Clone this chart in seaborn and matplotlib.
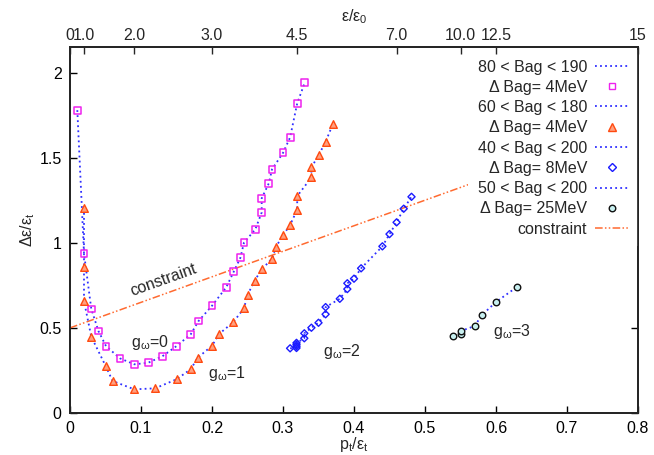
import numpy as np
import pandas as pd
import seaborn as sns
import matplotlib
matplotlib.use("Agg")
import matplotlib.pyplot as plt
from matplotlib.lines import Line2D

# ---------------- data ----------------
g0_x = [0.0103, 0.0197, 0.030, 0.040, 0.0507, 0.0704, 0.0906, 0.110, 0.130, 0.150, 0.170,
        0.181, 0.200, 0.220, 0.2306, 0.240, 0.245, 0.261, 0.270, 0.270, 0.280, 0.2845,
        0.300, 0.310, 0.320, 0.3306]
g0_y = [1.779, 0.938, 0.611, 0.482, 0.393, 0.321, 0.286, 0.295, 0.333, 0.393, 0.462,
        0.540, 0.630, 0.738, 0.830, 0.912, 1.000, 1.079, 1.178, 1.261, 1.349, 1.431,
        1.528, 1.619, 1.819, 1.940]

g1_x = [0.0197, 0.0197, 0.0197, 0.030, 0.050, 0.060, 0.0906, 0.120, 0.150, 0.170, 0.180,
        0.200, 0.210, 0.230, 0.245, 0.250, 0.260, 0.270, 0.2845, 0.290, 0.300, 0.310,
        0.320, 0.320, 0.340, 0.340, 0.350, 0.360, 0.370]
g1_y = [1.205, 0.859, 0.658, 0.448, 0.278, 0.188, 0.139, 0.145, 0.198, 0.257, 0.325,
        0.395, 0.464, 0.534, 0.615, 0.693, 0.777, 0.844, 0.906, 0.975, 1.045, 1.104,
        1.195, 1.274, 1.384, 1.443, 1.513, 1.593, 1.695]

g2_x = [0.310, 0.319, 0.319, 0.319, 0.319, 0.330, 0.330, 0.340, 0.350, 0.360, 0.360,
        0.380, 0.3906, 0.3906, 0.400, 0.410, 0.440, 0.450, 0.460, 0.470, 0.481]
g2_y = [0.380, 0.382, 0.392, 0.402, 0.412, 0.439, 0.468, 0.501, 0.530, 0.580, 0.622,
        0.671, 0.728, 0.762, 0.789, 0.850, 0.979, 1.051, 1.120, 1.200, 1.270]

g3_x = [0.540, 0.550, 0.550, 0.570, 0.580, 0.600, 0.630]
g3_y = [0.450, 0.464, 0.481, 0.511, 0.575, 0.652, 0.742]

constraint_x = [0.0, 0.8]
constraint_y = [0.5, 1.7]

top_tick_pos = [0.0, 0.02, 0.09, 0.20, 0.32, 0.46, 0.55, 0.60, 0.80]
top_tick_labels = ["0", "1.0", "2.0", "3.0", "4.5", "7.0", "10.0", "12.5", "15"]

range_labels = ["80 < Bag < 190", "60 < Bag < 180", "40 < Bag < 200", "50 < Bag < 200"]
step_labels = ["Δ Bag= 4MeV", "Δ Bag= 4MeV", "Δ Bag= 8MeV", "Δ Bag= 25MeV"]
g_labels = ["g$_\\mathrm{ω}$=0", "g$_\\mathrm{ω}$=1", "g$_\\mathrm{ω}$=2", "g$_\\mathrm{ω}$=3"]

# ---------------- style ----------------
sns.set_theme(style="ticks")
plt.rcParams["font.family"] = ["Liberation Sans", "DejaVu Sans"]
plt.rcParams["mathtext.fontset"] = "custom"
plt.rcParams["mathtext.rm"] = "Liberation Sans"
plt.rcParams["mathtext.it"] = "Liberation Sans"
plt.rcParams["axes.unicode_minus"] = False

FS = 11.5
LINE_C = "#3030ff"
DOT = (0, (1.0, 1.8))
CON_C = "#ff6a30"
CON_LS = (0, (5, 1.5, 1, 1.5, 1, 1.5))

fig = plt.figure(figsize=(6.54, 4.55), dpi=100)
ax = fig.add_axes([70 / 654, 1 - 413 / 455, 568 / 654, 366 / 455])

series = [
    (g0_x, g0_y, dict(marker="s", s=24, facecolor="none", edgecolor="#ee22ee", linewidth=1.1)),
    (g1_x, g1_y, dict(marker="^", s=30, facecolor="#ffa080", edgecolor="#ff4a10", linewidth=1.0)),
    (g2_x, g2_y, dict(marker="D", s=13, facecolor="none", edgecolor="#1a1aff", linewidth=1.0)),
    (g3_x, g3_y, dict(marker="o", s=22, facecolor="#c8f0f0", edgecolor="#111111", linewidth=1.0)),
]

for xs, ys, mk in series:
    df = pd.DataFrame({"x": xs, "y": ys})
    sns.lineplot(data=df, x="x", y="y", sort=False, estimator=None, ax=ax,
                 color=LINE_C, linestyle=DOT, linewidth=1.3, zorder=2)
    sns.scatterplot(data=df, x="x", y="y", ax=ax, zorder=3, **mk)

cdf = pd.DataFrame({"x": constraint_x, "y": constraint_y})
sns.lineplot(data=cdf, x="x", y="y", sort=False, estimator=None, ax=ax,
             color=CON_C, linestyle=CON_LS, linewidth=1.1, zorder=1)

ax.set_xlim(0, 0.8)
ax.set_ylim(0, 2.15)
ax.set_xticks(np.arange(0, 0.81, 0.1))
ax.set_xticklabels(["0", "0.1", "0.2", "0.3", "0.4", "0.5", "0.6", "0.7", "0.8"])
ax.set_yticks([0, 0.5, 1.0, 1.5, 2.0])
ax.set_yticklabels(["0", "0.5", "1", "1.5", "2"])
ax.tick_params(axis="both", direction="in", length=5, width=1, labelsize=FS, pad=6,
               right=True, top=False, colors="black")
ax.set_xlabel("p$_\\mathrm{t}$/ε$_\\mathrm{t}$", fontsize=FS, labelpad=-1)
ax.set_ylabel("Δε/ε$_\\mathrm{t}$", fontsize=FS, labelpad=2)
for sp in ax.spines.values():
    sp.set_visible(True)
    sp.set_linewidth(1.2)
    sp.set_color("black")

ax2 = ax.twiny()
ax2.set_xlim(ax.get_xlim())
ax2.set_xticks(top_tick_pos)
ax2.set_xticklabels(top_tick_labels)
ax2.tick_params(axis="x", direction="in", length=5, width=1, labelsize=FS, pad=3)
ax2.set_xlabel("ε/ε$_\\mathrm{0}$", fontsize=FS, labelpad=5)

# annotations
ax.text(0.132, 0.781, "constraint", fontsize=FS, rotation=19.8,
        ha="center", va="center", rotation_mode="anchor")
g_pos = [(0.113, 0.417), (0.221, 0.233), (0.383, 0.360), (0.622, 0.477)]
for (gx, gy), lab in zip(g_pos, g_labels):
    ax.text(gx, gy, lab, fontsize=FS, ha="center", va="center")

# legend
handles, labels = [], []
for (xs, ys, mk), rl, sl in zip(series, range_labels, step_labels):
    handles.append(Line2D([], [], color=LINE_C, linestyle=DOT, linewidth=1.3))
    labels.append(rl)
    handles.append(Line2D([], [], linestyle="none", marker=mk["marker"],
                          markersize=np.sqrt(mk["s"]),
                          markerfacecolor=mk["facecolor"], markeredgecolor=mk["edgecolor"],
                          markeredgewidth=1.0))
    labels.append(sl)
handles.append(Line2D([], [], color=CON_C, linestyle=CON_LS, linewidth=1.1))
labels.append("constraint")

leg = ax.legend(handles, labels, loc="upper right", bbox_to_anchor=(1.0, 0.992),
                fontsize=FS, frameon=True, markerfirst=False, handlelength=2.1,
                handletextpad=0.5, labelspacing=0.33, borderpad=0.6, borderaxespad=0.0,
                numpoints=1, fancybox=False)
leg.get_frame().set_facecolor("white")
leg.get_frame().set_edgecolor("none")
leg.get_frame().set_alpha(1.0)
for t in leg.get_texts():
    t.set_ha("right")
leg._legend_box.align = "right"
leg.set_zorder(10)

fig.savefig("out.png", dpi=100)
